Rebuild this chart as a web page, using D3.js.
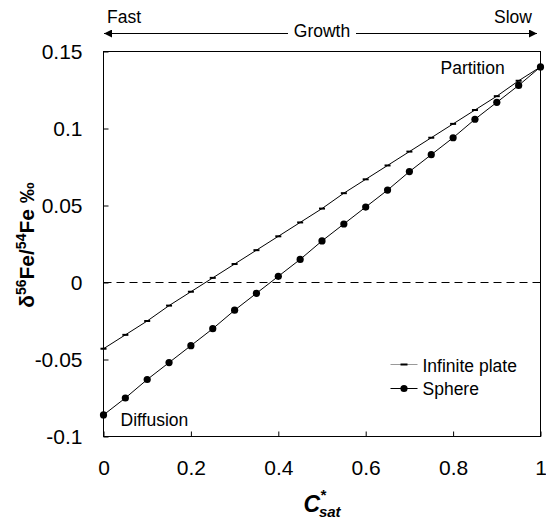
<!DOCTYPE html>
<html>
<head>
<meta charset="utf-8">
<script src="https://cdn.jsdelivr.net/npm/d3@7"></script>
<style>
  body { margin: 0; background: #fff; }
  svg { font-family: "Liberation Sans", Arial, sans-serif; }
</style>
</head>
<body>
<svg id="svg" width="546" height="521"></svg>
<script>
// C*sat values (same for both series)
var cSat = [0, 0.05, 0.1, 0.15, 0.2, 0.25, 0.3, 0.35, 0.4, 0.45, 0.5,
            0.55, 0.6, 0.65, 0.7, 0.75, 0.8, 0.85, 0.9, 0.95, 1];
var plateValues = [-0.043, -0.034, -0.025, -0.015, -0.006, 0.003, 0.012, 0.021, 0.030, 0.039, 0.048,
                   0.058, 0.067, 0.076, 0.085, 0.094, 0.103, 0.112, 0.121, 0.131, 0.140];
var sphereValues = [-0.086, -0.075, -0.063, -0.052, -0.041, -0.030, -0.018, -0.007, 0.004, 0.015, 0.027,
                    0.038, 0.049, 0.060, 0.072, 0.083, 0.094, 0.106, 0.117, 0.128, 0.140];
var xTicks = [0, 0.2, 0.4, 0.6, 0.8, 1];
var yTicks = [-0.1, -0.05, 0, 0.05, 0.1, 0.15];

var svg = d3.select("#svg");
var margin = {top: 51, right: 6, bottom: 85, left: 103};
var width = 540 - margin.left,
    height = 436 - margin.top;
var labelSize = 17.5;

var g = svg.append("g")
  .attr("transform", "translate(" + (margin.left + 0.5) + "," + (margin.top + 0.5) + ")");

var x = d3.scaleLinear().domain([0, 1]).range([0, width]);
var y = d3.scaleLinear().domain([-0.1, 0.15]).range([height, 0]);

function fmt(d) { return String(+d.toFixed(2)); }

// frame
g.append("rect")
  .attr("width", width)
  .attr("height", height)
  .attr("fill", "none")
  .attr("stroke", "#000")
  .attr("stroke-width", 1);

var xAxis = g.append("g")
  .attr("transform", "translate(0," + height + ")")
  .call(d3.axisBottom(x).tickValues(xTicks).tickFormat(fmt).tickSizeInner(-5).tickSizeOuter(0).tickPadding(24));

var yAxis = g.append("g")
  .call(d3.axisLeft(y).tickValues(yTicks).tickFormat(fmt).tickSizeInner(-5).tickSizeOuter(0).tickPadding(21));

[xAxis, yAxis].forEach(function (a) {
  a.select(".domain").remove();
  a.selectAll("text")
    .attr("font-size", 21)
    .attr("font-family", "Liberation Sans, Arial, sans-serif")
    .attr("fill", "#000");
  a.selectAll("line").attr("stroke", "#000");
});

// zero reference
g.append("line")
  .attr("x1", 0).attr("x2", width)
  .attr("y1", y(0)).attr("y2", y(0))
  .attr("stroke", "#000")
  .attr("stroke-dasharray", "8,5");

var line = d3.line()
  .x(function (d) { return x(d[0]); })
  .y(function (d) { return y(d[1]); });

var plate = cSat.map(function (c, i) { return [c, plateValues[i]]; });
var sphere = cSat.map(function (c, i) { return [c, sphereValues[i]]; });

g.append("path").datum(plate)
  .attr("d", line).attr("fill", "none").attr("stroke", "#000").attr("stroke-width", 1);
g.append("path").datum(sphere)
  .attr("d", line).attr("fill", "none").attr("stroke", "#000").attr("stroke-width", 1);

g.selectAll(".plate-mark").data(plate).enter().append("rect")
  .attr("class", "plate-mark")
  .attr("x", function (d) { return x(d[0]) - 3; })
  .attr("y", function (d) { return y(d[1]) - 1; })
  .attr("width", 6).attr("height", 2)
  .attr("fill", "#000");

g.selectAll(".sphere-mark").data(sphere).enter().append("circle")
  .attr("class", "sphere-mark")
  .attr("cx", function (d) { return x(d[0]); })
  .attr("cy", function (d) { return y(d[1]); })
  .attr("r", 3.6)
  .attr("fill", "#000");

// annotations inside plot
g.append("text").attr("x", 17).attr("y", 425 - margin.top)
  .attr("font-size", labelSize).text("Diffusion");
g.append("text").attr("x", 337).attr("y", 73 - margin.top)
  .attr("font-size", labelSize).text("Partition");

// legend
var legend = g.append("g").attr("transform", "translate(" + (390 - margin.left) + "," + (364 - margin.top) + ")");
legend.append("line").attr("x1", 0).attr("x2", 27).attr("y1", 0).attr("y2", 0)
  .attr("stroke", "#999").attr("stroke-width", 1);
legend.append("rect").attr("x", 10).attr("y", -1).attr("width", 7).attr("height", 2).attr("fill", "#000");
legend.append("text").attr("x", 32).attr("y", 7).attr("font-size", labelSize).text("Infinite plate");
legend.append("line").attr("x1", 0).attr("x2", 27).attr("y1", 24).attr("y2", 24)
  .attr("stroke", "#000").attr("stroke-width", 1);
legend.append("circle").attr("cx", 13.5).attr("cy", 24).attr("r", 3.6).attr("fill", "#000");
legend.append("text").attr("x", 32).attr("y", 30).attr("font-size", labelSize).text("Sphere");

// top growth arrow
var defs = svg.append("defs");
defs.append("marker").attr("id", "arrow")
  .attr("viewBox", "0 0 10 10").attr("refX", 10).attr("refY", 5)
  .attr("markerWidth", 10).attr("markerHeight", 8).attr("markerUnits", "userSpaceOnUse")
  .attr("orient", "auto")
  .append("path").attr("d", "M0,0L10,5L0,10Z").attr("fill", "#000");

var arrowY = 33.5;
svg.append("line")
  .attr("x1", 288).attr("x2", 104).attr("y1", arrowY).attr("y2", arrowY)
  .attr("stroke", "#000").attr("stroke-width", 1).attr("marker-end", "url(#arrow)");
svg.append("line")
  .attr("x1", 356).attr("x2", 537).attr("y1", arrowY).attr("y2", arrowY)
  .attr("stroke", "#000").attr("stroke-width", 1).attr("marker-end", "url(#arrow)");
svg.append("text").attr("x", 322).attr("y", 37).attr("text-anchor", "middle")
  .attr("font-size", labelSize).text("Growth");
svg.append("text").attr("x", 107).attr("y", 23).attr("font-size", labelSize).text("Fast");
svg.append("text").attr("x", 532).attr("y", 23).attr("text-anchor", "end")
  .attr("font-size", labelSize).text("Slow");

// axis titles
var yTitle = svg.append("text")
  .attr("transform", "translate(34,245) rotate(-90)")
  .attr("text-anchor", "middle")
  .attr("font-size", 21).attr("font-weight", "bold");
yTitle.append("tspan").text("δ");
yTitle.append("tspan").attr("font-size", 14).attr("dy", -8).text("56");
yTitle.append("tspan").attr("dy", 8).text("Fe/");
yTitle.append("tspan").attr("font-size", 14).attr("dy", -8).text("54");
yTitle.append("tspan").attr("dy", 8).text("Fe ‰");

var xTitle = svg.append("text")
  .attr("x", 322).attr("y", 512)
  .attr("text-anchor", "middle")
  .attr("font-size", 23).attr("font-weight", "bold").attr("font-style", "italic");
xTitle.append("tspan").text("C");
xTitle.append("tspan").attr("font-size", 15).attr("dy", -12).text("*");
xTitle.append("tspan").attr("font-size", 15).attr("dx", -7).attr("dy", 17).text("sat");
</script>
</body>
</html>
